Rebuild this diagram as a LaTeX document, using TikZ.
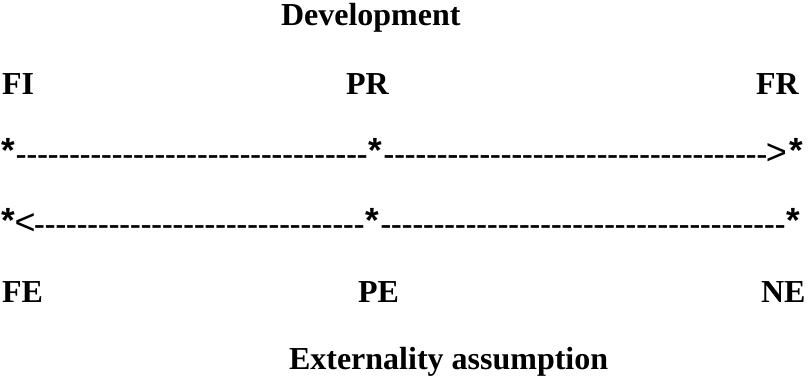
\documentclass[tikz,border=0pt]{standalone}
\usepackage{fontspec}
\setmainfont{Liberation Serif}[Ligatures=TeXOff]
\newfontfamily\symf{Liberation Sans}
\newcommand\st{\makebox[16pt]{\symf\bfseries\fontsize{35}{40}\selectfont\raisebox{2.5pt}{*}}}
\newcommand\lt{\makebox[18.2pt]{\symf\mdseries\fontsize{36}{40}\selectfont <}}
\newcommand\gt{\makebox[18.2pt]{\symf\mdseries\fontsize{36}{40}\selectfont >}}
\begin{document}
\begin{tikzpicture}[x=1pt,y=1pt,
  lbl/.style={anchor=base west,inner sep=0pt,outer sep=0pt,
    font=\fontsize{32}{38}\selectfont\bfseries}]
\useasboundingbox (0,0) rectangle (812,377);
\node[lbl] (dev) at (281,351) {Development};
\node[lbl] (fi) at (2,282) {FI};
\node[lbl] (pr) at (346,282) {PR};
\node[lbl] (fr) at (756,282) {FR};
\node[lbl] (row1) at (0,212) {\st---------------------------------\st------------------------------------\gt\kern3pt\st};
\node[lbl] (row2) at (0,142) {\st\lt-------------------------------\st--------------------------------------\st};
\node[lbl] (fe) at (2,74) {FE};
\node[lbl] (pe) at (358,74) {PE};
\node[lbl] (ne) at (761,74) {NE};
\node[lbl] (ext) at (289,7) {Externality assumption};
\end{tikzpicture}
\end{document}
